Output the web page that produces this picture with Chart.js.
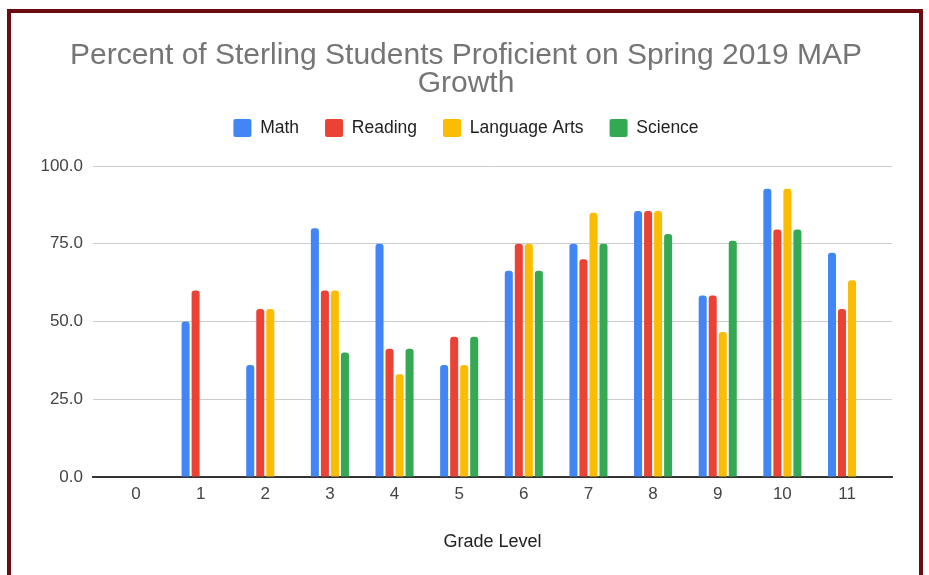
<!DOCTYPE html>
<html>
<head>
<meta charset="utf-8">
<script src="https://cdn.jsdelivr.net/npm/chart.js@4"></script>
<style>
  html, body { margin: 0; padding: 0; background: #ffffff; }
  .quadro {
    position: absolute; left: 7px; top: 9px; width: 908px; height: 600px;
    border: 4px solid #6c0b11; box-sizing: content-box;
  }
  .grafico { position: absolute; left: 0; top: 0; width: 929px; height: 575px; }
</style>
</head>
<body>
<div class="quadro"></div>
<div class="grafico"><canvas id="graficoMap"></canvas></div>
<script>
// Série de notas (séries 0 a 11)
const gradeLevels = [0, 1, 2, 3, 4, 5, 6, 7, 8, 9, 10, 11];
const mathValues = [null, 50, 36, 80, 75, 36, 66.3, 75, 85.5, 58.4, 92.7, 72.1];
const readingValues = [null, 60, 54, 60, 41.2, 45.1, 75, 70, 85.5, 58.4, 79.6, 54];
const languageArtsValues = [null, null, 54, 60, 33, 36, 75, 85, 85.5, 46.6, 92.7, 63.3];
const scienceValues = [null, null, null, 40, 41.2, 45.1, 66.3, 75, 78.1, 76, 79.6, null];
const yTicks = [0, 25, 50, 75, 100];

const fonte = 'Arial, "Liberation Sans", sans-serif';

function serie(label, data, cor) {
  return {
    label: label,
    data: data,
    backgroundColor: cor,
    borderWidth: 0,
    borderRadius: { topLeft: 3, topRight: 3 },
    borderSkipped: 'bottom',
    categoryPercentage: 0.62,
    barPercentage: 0.8
  };
}

// Espaço extra abaixo da legenda
const espacoLegenda = {
  id: 'espacoLegenda',
  beforeLayout(chart) {
    const legenda = chart.legend;
    if (legenda && !legenda._fitOriginal) {
      legenda._fitOriginal = legenda.fit;
      legenda.fit = function() {
        this._fitOriginal();
        this.height += 19;
      };
    }
  }
};

const ctx = document.getElementById('graficoMap').getContext('2d');
new Chart(ctx, {
  type: 'bar',
  data: {
    labels: gradeLevels,
    datasets: [
      serie('Math', mathValues, '#4285f4'),
      serie('Reading', readingValues, '#ea4335'),
      serie('Language Arts', languageArtsValues, '#fbbc04'),
      serie('Science', scienceValues, '#34a853')
    ]
  },
  plugins: [espacoLegenda],
  options: {
    responsive: true,
    maintainAspectRatio: false,
    animation: false,
    layout: { padding: { left: 40, right: 37, top: 41, bottom: 22 } },
    plugins: {
      title: {
        display: true,
        text: ['Percent of Sterling Students Proficient on Spring 2019 MAP', 'Growth'],
        color: '#757575',
        font: { family: fonte, size: 30, weight: 'normal', lineHeight: 0.95 },
        padding: { top: 0, bottom: -5 }
      },
      legend: {
        position: 'top',
        labels: {
          color: '#222222',
          font: { family: fonte, size: 17.5 },
          boxWidth: 18,
          boxHeight: 18,
          padding: 26,
          useBorderRadius: true,
          borderRadius: 2
        }
      },
      tooltip: { enabled: false }
    },
    scales: {
      x: {
        type: 'linear',
        min: -0.665,
        max: 11.696,
        offset: false,
        afterBuildTicks: axis => { axis.ticks = gradeLevels.map(v => ({ value: v })); },
        grid: { display: false, drawTicks: false },
        border: { display: true, color: '#333333', width: 2 },
        ticks: {
          color: '#444444',
          font: { family: fonte, size: 17 },
          padding: 7,
          autoSkip: false,
          maxRotation: 0,
          callback: v => String(v)
        },
        title: {
          display: true,
          text: 'Grade Level',
          color: '#222222',
          font: { family: fonte, size: 18 },
          padding: { top: 20, bottom: 0 }
        }
      },
      y: {
        min: 0,
        max: 100,
        afterBuildTicks: axis => { axis.ticks = yTicks.map(v => ({ value: v })); },
        afterFit: s => { s.width = 53; },
        grid: { color: '#cccccc', lineWidth: 1, drawTicks: false },
        border: { display: false },
        ticks: {
          color: '#444444',
          font: { family: fonte, size: 17 },
          padding: 10,
          callback: v => Number(v).toFixed(1)
        }
      }
    }
  }
});
</script>
</body>
</html>
